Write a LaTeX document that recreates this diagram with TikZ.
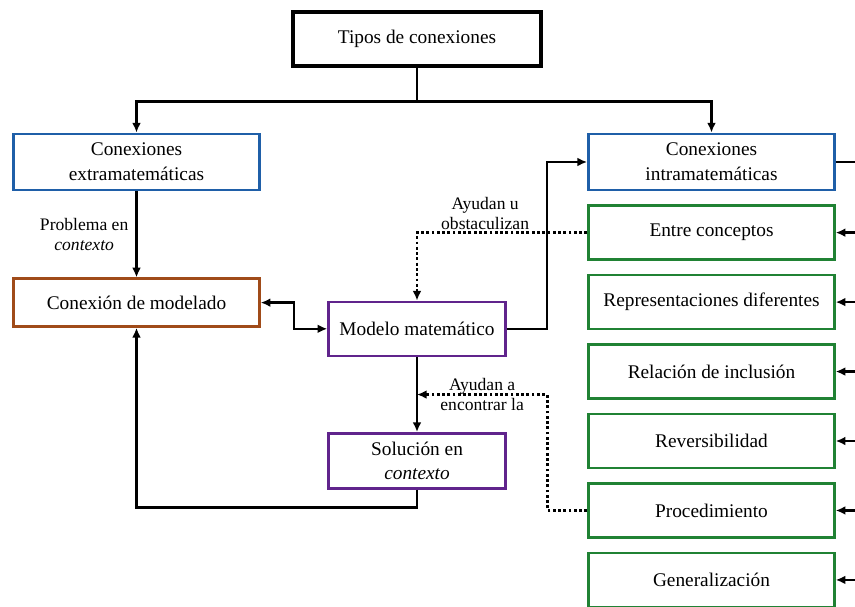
\documentclass[tikz,border=0pt]{standalone}
\usepackage{fontspec}
\setmainfont{Liberation Serif}
\usepackage{tikz}
\usetikzlibrary{positioning}
\usetikzlibrary{arrows.meta}
\usetikzlibrary{calc}
\definecolor{extBlue}{RGB}{31,95,168}
\definecolor{modBrown}{RGB}{160,75,25}
\definecolor{mathPurple}{RGB}{96,36,140}
\definecolor{intraGreen}{RGB}{32,130,52}
\def\boxWidth{4.92}
\def\boxHeight{1.08}
\def\midWidth{3.54}
\def\labelFont{\fontsize{10}{11.5}\selectfont}
\tikzset{% box and connector styles
  box/.style    = {draw, rectangle, align=center, line width=1.4pt,
    minimum width=\boxWidth cm, minimum height=\boxHeight cm, inner sep=2pt},
  extbox/.style = {box, draw=extBlue, line width=1.6pt, minimum height=1.12cm},
  modbox/.style = {box, draw=modBrown, minimum height=0.96cm},
  mathbox/.style = {box, draw=mathPurple, minimum width=\midWidth cm, minimum height=1.08cm},
  kindbox/.style = {box, draw=intraGreen},
  conn/.style   = {line width=1.3pt},
  arr/.style    = {conn, -{Latex[length=5.5pt,width=5pt]}},
  both/.style   = {conn, {Latex[length=5.5pt,width=5pt]}-{Latex[length=5.5pt,width=5pt]}},
  dotarr/.style = {arr, line width=1.5pt, dash pattern=on 1.6pt off 1.4pt},
  lbl/.style    = {align=center, font=\labelFont, inner sep=1pt},
}

\begin{document}
\begin{tikzpicture}[font=\fontsize{11}{14}\selectfont]
      \useasboundingbox (-8.34,-11.34) rectangle (8.76,0.78);
      \clip (-8.34,-11.34) rectangle (8.76,0.78);
      \coordinate (edge) at (8.76,0);

      \node[draw, rectangle, line width=1.8pt,
       minimum width=4.96cm, minimum height=1.08cm] (Tipos) at (0,0)
      {Tipos de conexiones};

      % Extra / intra
      \node[extbox, below=1.3cm of Tipos, xshift=-5.61cm] (Extra) {Conexiones\\extramatemáticas};
      \node[extbox, below=1.3cm of Tipos, xshift=5.89cm] (Intra) {Conexiones\\intramatemáticas};

      \coordinate[below=0.68cm of Tipos.south] (split);
      \draw[conn] (Tipos.south) -- (split);
      \draw[arr] (split) -| (Extra.north);
      \draw[arr] (split) -| (Intra.north);

      % Modelling cycle
      \node[modbox, below=1.72cm of Extra] (Modelado) {Conexión de modelado};
      \node[mathbox, below=4.66cm of Tipos] (Modelo) {Modelo matemático};
      \node[mathbox, below=1.5cm of Modelo, minimum height=1.1cm] (Solucion) {Solución en\\\textit{contexto}};

      \draw[arr] (Extra) -- node[left=3pt, lbl]{Problema en\\\textit{contexto}} (Modelado);
      \draw[both] (Modelado.east) -- ++(0.66,0) |- (Modelo.west);
      \draw[arr] (Modelo.east) -- ++(0.8,0) |- (Intra.west);
      \draw[arr] (Modelo) -- (Solucion);
      \draw[arr] (Solucion.south) -- ++(0,-0.36) -| (Modelado.south);

      % Kinds of intra connections
      \node[kindbox, below=0.26cm of Intra] (Entre) {Entre conceptos};
      \node[kindbox, below=0.26cm of Entre] (Repr) {Representaciones diferentes};
      \node[kindbox, below=0.26cm of Repr] (Rel) {Relación de inclusión};
      \node[kindbox, below=0.26cm of Rel] (Rev) {Reversibilidad};
      \node[kindbox, below=0.26cm of Rev] (Proc) {Procedimiento};
      \node[kindbox, below=0.26cm of Proc] (Gen) {Generalización};

      \draw[conn] (Intra.east) -- (Intra.east -| edge);
      \foreach \kind in {Entre,Repr,Rel,Rev,Proc,Gen}
        \draw[arr] (\kind.east -| edge) -- (\kind.east);

      % dotted influences
      \coordinate (hit) at ($(Modelo.south)!0.5!(Solucion.north)$);
      \draw[dotarr] (Entre.west) -| node[pos=0.3, above, lbl]{Ayudan u\\obstaculizan} (Modelo.north);
      \draw[dotarr] (Proc.west) -- ++(-0.8,0) |- node[pos=0.75, lbl]{Ayudan a\\encontrar la} (hit);
\end{tikzpicture}
\end{document}
